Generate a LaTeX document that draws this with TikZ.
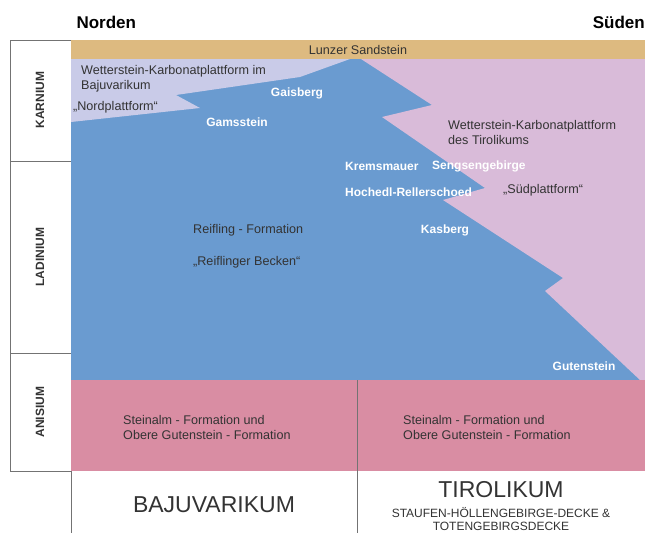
\documentclass[tikz,border=0pt]{standalone}
\usepackage{fontspec}
\setmainfont{Liberation Sans}
\definecolor{sandcol}{RGB}{221,186,128}
\definecolor{basincol}{RGB}{106,155,208}
\definecolor{nordcol}{RGB}{201,203,232}
\definecolor{suedcol}{RGB}{217,187,217}
\definecolor{aniscol}{RGB}{217,141,163}
\tikzset{
  stagebox/.style  = {draw=black!55,line width=1pt,fill=white},
  stagename/.style = {rotate=90,font=\bfseries\fontsize{12}{14}\selectfont,text=black!80},
  unitlabel/.style = {font=\fontsize{12.6}{15}\selectfont,text=black!80,inner sep=0pt,align=left},
  peaklabel/.style = {font=\bfseries\fontsize{12}{14}\selectfont,text=white,inner sep=0pt},
  divider/.style   = {draw=black!55,line width=1pt}
}

\begin{document}
\begin{tikzpicture}[x=1pt,y=-1pt]
  \useasboundingbox (0,0) rectangle (645,533);
  \fill[white] (0,0) rectangle (645,533);
  % compass
  \node[font=\bfseries\fontsize{17}{20}\selectfont,anchor=west] (north) at (73,22) {Norden};
  \node[font=\bfseries\fontsize{17}{20}\selectfont,anchor=east,inner sep=0pt] (south) at (645,22) {Süden};
  % stages
  \draw[stagebox] (10,40) rectangle (71,161);
  \draw[stagebox] (10,161) rectangle (71,353);
  \draw[stagebox] (10,353) rectangle (71,471);
  \node[stagename] (karn)  at (40,100) {KARNIUM};
  \node[stagename] (ladin) at (40,257) {LADINIUM};
  \node[stagename] (anis)  at (40,412) {ANISIUM};
  % basin and platforms
  \fill[basincol] (71,59) rectangle (645,380);
  \fill[nordcol] (71,59) -- (350,59) -- (300,77) -- (176,95) -- (200,108)
    -- (71,122) -- cycle;
  \fill[suedcol] (361,59) -- (645,59) -- (645,380) -- (640,380) -- (545,291)
    -- (563,278) -- (443,200) -- (485,188) -- (382,117) -- (432,105) -- cycle;
  \fill[sandcol] (71,40) rectangle (645,59);
  \fill[aniscol] (71,380) rectangle (645,471);
  \draw[divider] (357,380) -- (357,533);
  \draw[divider] (71,471) -- (71,533);
  % units
  \node[unitlabel] (lunz) at (358,50) {Lunzer Sandstein};
  \node[unitlabel,anchor=west] (nordpf) at (81,79)
    {Wetterstein-Karbonatplattform im\\Bajuvarikum};
  \node[unitlabel,anchor=west] (nordname) at (73,107) {„Nordplattform“};
  \node[unitlabel,anchor=west] (suedpf) at (448,132)
    {Wetterstein-Karbonatplattform\\des Tirolikums};
  \node[unitlabel,anchor=west] (suedname) at (503,190) {„Südplattform“};
  \node[unitlabel,anchor=west] (reif) at (193,230) {Reifling - Formation};
  \node[unitlabel,anchor=west] (becken) at (193,262) {„Reiflinger Becken“};
  \node[unitlabel,anchor=west] (steinw) at (123,427)
    {Steinalm - Formation und\\Obere Gutenstein - Formation};
  \node[unitlabel,anchor=west] (steine) at (403,427)
    {Steinalm - Formation und\\Obere Gutenstein - Formation};
  % localities
  \node[peaklabel] (gais)  at (297,93)  {Gaisberg};
  \node[peaklabel] (gams)  at (237,122) {Gamsstein};
  \node[peaklabel,anchor=west] (krems) at (345,166) {Kremsmauer};
  \node[peaklabel,anchor=west] (sengs) at (432,166) {Sengsengebirge};
  \node[peaklabel,anchor=west] (hoch)  at (345,192) {Hochedl-Rellerschoed};
  \node[peaklabel] (kas)   at (445,230) {Kasberg};
  \node[peaklabel] (guten) at (584,366) {Gutenstein};
  % nappes
  \node[font=\fontsize{23}{26}\selectfont,text=black!80] (baju) at (214,505) {BAJUVARIKUM};
  \node[font=\fontsize{23}{26}\selectfont,text=black!80] (tirol) at (501,490) {TIROLIKUM};
  \node[font=\fontsize{12}{13}\selectfont,text=black!80,align=center] (decke) at (501,519)
    {STAUFEN-HÖLLENGEBIRGE-DECKE \&\\TOTENGEBIRGSDECKE};
\end{tikzpicture}
\end{document}
